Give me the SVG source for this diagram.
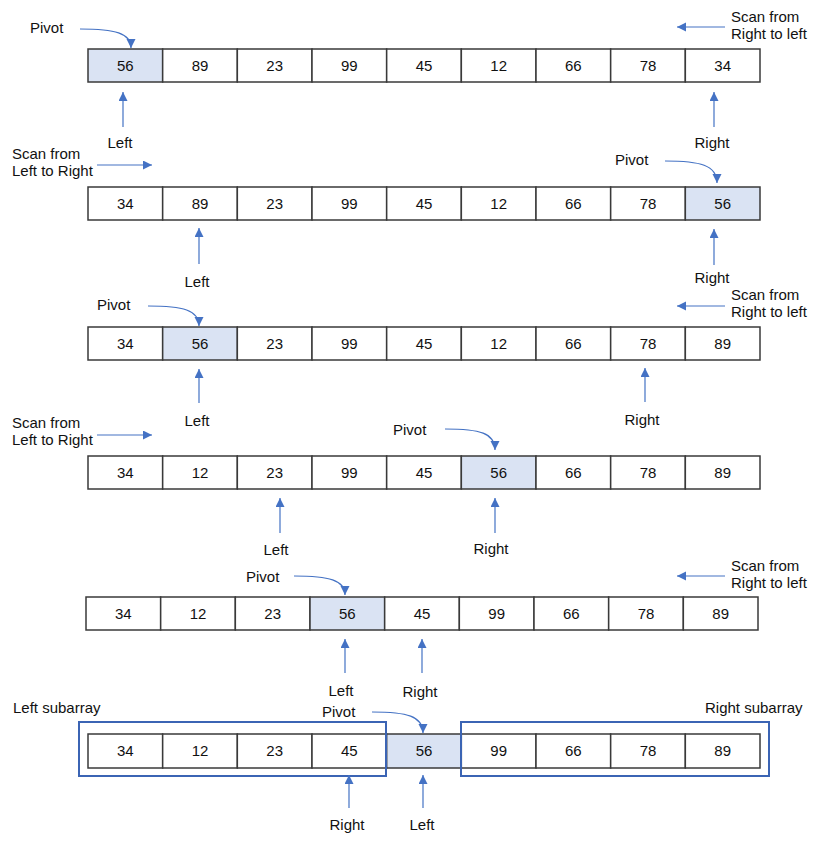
<svg xmlns="http://www.w3.org/2000/svg" width="823" height="845" viewBox="0 0 823 845">
<style>
text{font-family:"Liberation Sans",Arial,sans-serif;font-size:15px;fill:#111}
.c{fill:#fff;stroke:#3a3a3a;stroke-width:1.5}
.p{fill:#dae3f3;stroke:#3a3a3a;stroke-width:1.5}
.n{text-anchor:middle}
.a{fill:none;stroke:#4472c4;stroke-width:1.2;marker-end:url(#ah)}
.box{fill:none;stroke:#3b64b4;stroke-width:2}
</style>
<defs>
<marker id="ah" markerUnits="userSpaceOnUse" markerWidth="10" markerHeight="10" refX="9" refY="4.5" orient="auto">
<path d="M0,0 L9,4.5 L0,9 z" fill="#4472c4"/>
</marker>
</defs>
<rect width="823" height="845" fill="#fff"/>

<g id="row1">
<rect class="p" x="88" y="49" width="74.67" height="33"/>
<rect class="c" x="162.67" y="49" width="74.67" height="33"/>
<rect class="c" x="237.33" y="49" width="74.67" height="33"/>
<rect class="c" x="312" y="49" width="74.67" height="33"/>
<rect class="c" x="386.67" y="49" width="74.67" height="33"/>
<rect class="c" x="461.33" y="49" width="74.67" height="33"/>
<rect class="c" x="536" y="49" width="74.67" height="33"/>
<rect class="c" x="610.67" y="49" width="74.67" height="33"/>
<rect class="c" x="685.33" y="49" width="74.67" height="33"/>
<text class="n" x="125.3" y="71">56</text><text class="n" x="200" y="71">89</text><text class="n" x="274.7" y="71">23</text><text class="n" x="349.3" y="71">99</text><text class="n" x="424" y="71">45</text><text class="n" x="498.7" y="71">12</text><text class="n" x="573.3" y="71">66</text><text class="n" x="648" y="71">78</text><text class="n" x="722.7" y="71">34</text>
</g>

<g id="row2">
<rect class="c" x="88" y="187" width="74.67" height="33"/>
<rect class="c" x="162.67" y="187" width="74.67" height="33"/>
<rect class="c" x="237.33" y="187" width="74.67" height="33"/>
<rect class="c" x="312" y="187" width="74.67" height="33"/>
<rect class="c" x="386.67" y="187" width="74.67" height="33"/>
<rect class="c" x="461.33" y="187" width="74.67" height="33"/>
<rect class="c" x="536" y="187" width="74.67" height="33"/>
<rect class="c" x="610.67" y="187" width="74.67" height="33"/>
<rect class="p" x="685.33" y="187" width="74.67" height="33"/>
<text class="n" x="125.3" y="209">34</text><text class="n" x="200" y="209">89</text><text class="n" x="274.7" y="209">23</text><text class="n" x="349.3" y="209">99</text><text class="n" x="424" y="209">45</text><text class="n" x="498.7" y="209">12</text><text class="n" x="573.3" y="209">66</text><text class="n" x="648" y="209">78</text><text class="n" x="722.7" y="209">56</text>
</g>

<g id="row3">
<rect class="c" x="88" y="327" width="74.67" height="33"/>
<rect class="p" x="162.67" y="327" width="74.67" height="33"/>
<rect class="c" x="237.33" y="327" width="74.67" height="33"/>
<rect class="c" x="312" y="327" width="74.67" height="33"/>
<rect class="c" x="386.67" y="327" width="74.67" height="33"/>
<rect class="c" x="461.33" y="327" width="74.67" height="33"/>
<rect class="c" x="536" y="327" width="74.67" height="33"/>
<rect class="c" x="610.67" y="327" width="74.67" height="33"/>
<rect class="c" x="685.33" y="327" width="74.67" height="33"/>
<text class="n" x="125.3" y="349">34</text><text class="n" x="200" y="349">56</text><text class="n" x="274.7" y="349">23</text><text class="n" x="349.3" y="349">99</text><text class="n" x="424" y="349">45</text><text class="n" x="498.7" y="349">12</text><text class="n" x="573.3" y="349">66</text><text class="n" x="648" y="349">78</text><text class="n" x="722.7" y="349">89</text>
</g>

<g id="row4">
<rect class="c" x="88" y="456" width="74.67" height="33"/>
<rect class="c" x="162.67" y="456" width="74.67" height="33"/>
<rect class="c" x="237.33" y="456" width="74.67" height="33"/>
<rect class="c" x="312" y="456" width="74.67" height="33"/>
<rect class="c" x="386.67" y="456" width="74.67" height="33"/>
<rect class="p" x="461.33" y="456" width="74.67" height="33"/>
<rect class="c" x="536" y="456" width="74.67" height="33"/>
<rect class="c" x="610.67" y="456" width="74.67" height="33"/>
<rect class="c" x="685.33" y="456" width="74.67" height="33"/>
<text class="n" x="125.3" y="478">34</text><text class="n" x="200" y="478">12</text><text class="n" x="274.7" y="478">23</text><text class="n" x="349.3" y="478">99</text><text class="n" x="424" y="478">45</text><text class="n" x="498.7" y="478">56</text><text class="n" x="573.3" y="478">66</text><text class="n" x="648" y="478">78</text><text class="n" x="722.7" y="478">89</text>
</g>

<g id="row5">
<rect class="c" x="86" y="597" width="74.67" height="33"/>
<rect class="c" x="160.67" y="597" width="74.67" height="33"/>
<rect class="c" x="235.33" y="597" width="74.67" height="33"/>
<rect class="p" x="310" y="597" width="74.67" height="33"/>
<rect class="c" x="384.67" y="597" width="74.67" height="33"/>
<rect class="c" x="459.33" y="597" width="74.67" height="33"/>
<rect class="c" x="534" y="597" width="74.67" height="33"/>
<rect class="c" x="608.67" y="597" width="74.67" height="33"/>
<rect class="c" x="683.33" y="597" width="74.67" height="33"/>
<text class="n" x="123.3" y="619">34</text><text class="n" x="198" y="619">12</text><text class="n" x="272.7" y="619">23</text><text class="n" x="347.3" y="619">56</text><text class="n" x="422" y="619">45</text><text class="n" x="496.7" y="619">99</text><text class="n" x="571.3" y="619">66</text><text class="n" x="646" y="619">78</text><text class="n" x="720.7" y="619">89</text>
</g>

<g id="row6">
<rect class="c" x="88" y="734" width="74.67" height="34"/>
<rect class="c" x="162.67" y="734" width="74.67" height="34"/>
<rect class="c" x="237.33" y="734" width="74.67" height="34"/>
<rect class="c" x="312" y="734" width="74.67" height="34"/>
<rect class="p" x="386.67" y="734" width="74.67" height="34"/>
<rect class="c" x="461.33" y="734" width="74.67" height="34"/>
<rect class="c" x="536" y="734" width="74.67" height="34"/>
<rect class="c" x="610.67" y="734" width="74.67" height="34"/>
<rect class="c" x="685.33" y="734" width="74.67" height="34"/>
<text class="n" x="125.3" y="756">34</text><text class="n" x="200" y="756">12</text><text class="n" x="274.7" y="756">23</text><text class="n" x="349.3" y="756">45</text><text class="n" x="424" y="756">56</text><text class="n" x="498.7" y="756">99</text><text class="n" x="573.3" y="756">66</text><text class="n" x="648" y="756">78</text><text class="n" x="722.7" y="756">89</text>
</g>

<g id="left-subarray">
<rect class="box" x="79" y="722" width="307" height="54"/>
<text x="13" y="713">Left subarray</text>
</g>
<g id="right-subarray">
<rect class="box" x="461" y="722" width="308" height="54"/>
<text x="705" y="713">Right subarray</text>
</g>

<g id="labels">
<text x="30" y="33">Pivot</text>
<text class="n" x="120" y="148">Left</text>
<text class="n" x="712" y="148">Right</text>
<text x="731" y="22">Scan from<tspan x="731" dy="17">Right to left</tspan></text>

<text x="12" y="159">Scan from<tspan x="12" dy="17">Left to Right</tspan></text>
<text x="615" y="165">Pivot</text>
<text class="n" x="197" y="287">Left</text>
<text class="n" x="712" y="283">Right</text>

<text x="97" y="310">Pivot</text>
<text x="731" y="300">Scan from<tspan x="731" dy="17">Right to left</tspan></text>
<text class="n" x="197" y="426">Left</text>
<text class="n" x="642" y="425">Right</text>

<text x="12" y="428">Scan from<tspan x="12" dy="17">Left to Right</tspan></text>
<text x="393" y="435">Pivot</text>
<text class="n" x="276" y="555">Left</text>
<text class="n" x="491" y="554">Right</text>

<text x="246" y="582">Pivot</text>
<text x="731" y="571">Scan from<tspan x="731" dy="17">Right to left</tspan></text>
<text class="n" x="341" y="696">Left</text>
<text class="n" x="420" y="697">Right</text>

<text x="322" y="717">Pivot</text>
<text class="n" x="347" y="830">Right</text>
<text class="n" x="422" y="830">Left</text>
</g>

<g id="connectors">
<path class="a" d="M80,29 C115,29 131,33 131,48"/>
<path class="a" d="M123,127 V92"/>
<path class="a" d="M714,127 V92"/>
<path class="a" d="M725,27 H677"/>

<path class="a" d="M97,165 H152"/>
<path class="a" d="M665,161 C700,161 717,165 717,183"/>
<path class="a" d="M199,264 V228"/>
<path class="a" d="M714,265 V229"/>

<path class="a" d="M148,306 C183,306 199,310 199,326"/>
<path class="a" d="M725,306 H677"/>
<path class="a" d="M199,403 V369"/>
<path class="a" d="M645,402 V368"/>

<path class="a" d="M97,435 H152"/>
<path class="a" d="M445,429 C480,429 495,433 495,450"/>
<path class="a" d="M280,533 V498"/>
<path class="a" d="M495,533 V498"/>

<path class="a" d="M294,576 C329,576 345,580 345,595"/>
<path class="a" d="M725,576 H677"/>
<path class="a" d="M345,673 V639"/>
<path class="a" d="M422,673 V639"/>

<path class="a" d="M372,712 C407,712 423,716 423,733"/>
<path class="a" d="M349,808 V775"/>
<path class="a" d="M423,808 V775"/>
</g>
</svg>
